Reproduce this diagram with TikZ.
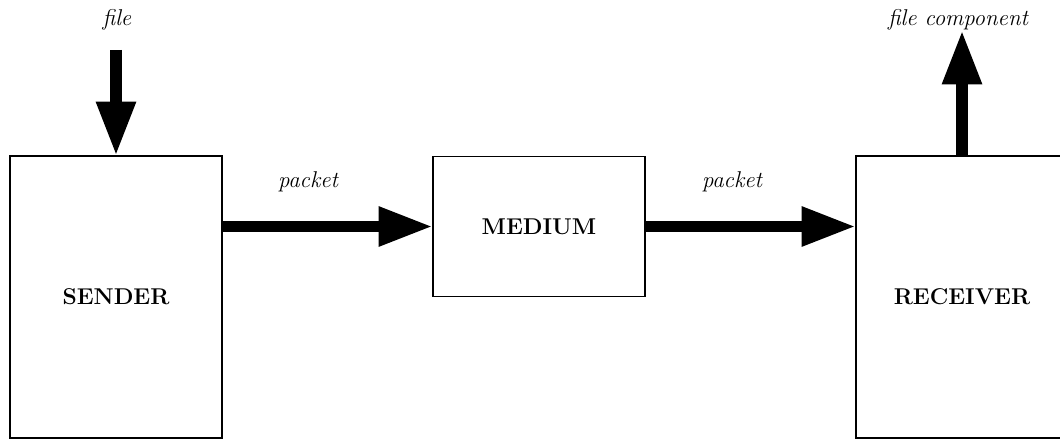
\documentclass[tikz,border=0pt]{standalone}
\usetikzlibrary{arrows.meta}
\newcommand{\labelsize}{\fontsize{13}{15}\selectfont}
\begin{document}
\begin{tikzpicture}[x=0.02cm,y=-0.02cm,
  block/.style={draw,rectangle,inner sep=0pt,outer sep=0pt,
    minimum width=4.24cm,font=\labelsize\bfseries},
  flow/.style={line width=6.8pt,line cap=butt,
    -{Triangle[length=31pt,width=21pt]}},
  tag/.style={font=\labelsize\itshape,inner sep=0pt}]
  \useasboundingbox (0,0) rectangle (1060,439);
  \clip (0,0) rectangle (1060,439);

  % the three stations
  \node[block,line width=1.1pt,minimum height=5.64cm] (sender) at (116,297) {SENDER};
  \node[block,line width=0.7pt,minimum height=2.8cm] (medium) at (539,226.5) {MEDIUM};
  \node[block,line width=1.1pt,minimum height=5.64cm] (receiver) at (962,297) {RECEIVER};

  % free ends of the vertical arrows
  \coordinate (filein) at (116,50);
  \coordinate (fileout) at (962,30);

  % connectors
  \draw[flow] (filein) -- (sender.north);
  \draw[flow] (sender.east |- medium.west) -- (medium.west);
  \draw[flow] (medium.east) -- (receiver.west |- medium.east);
  \draw[flow] (receiver.north) -- (fileout);

  % labels
  \node[tag] (lfile) at (117,20) {file};
  \node[tag] (lpk1) at (308,182) {packet};
  \node[tag] (lpk2) at (732,182) {packet};
  \node[tag] (lcomp) at (958,20) {file component};
\end{tikzpicture}
\end{document}
